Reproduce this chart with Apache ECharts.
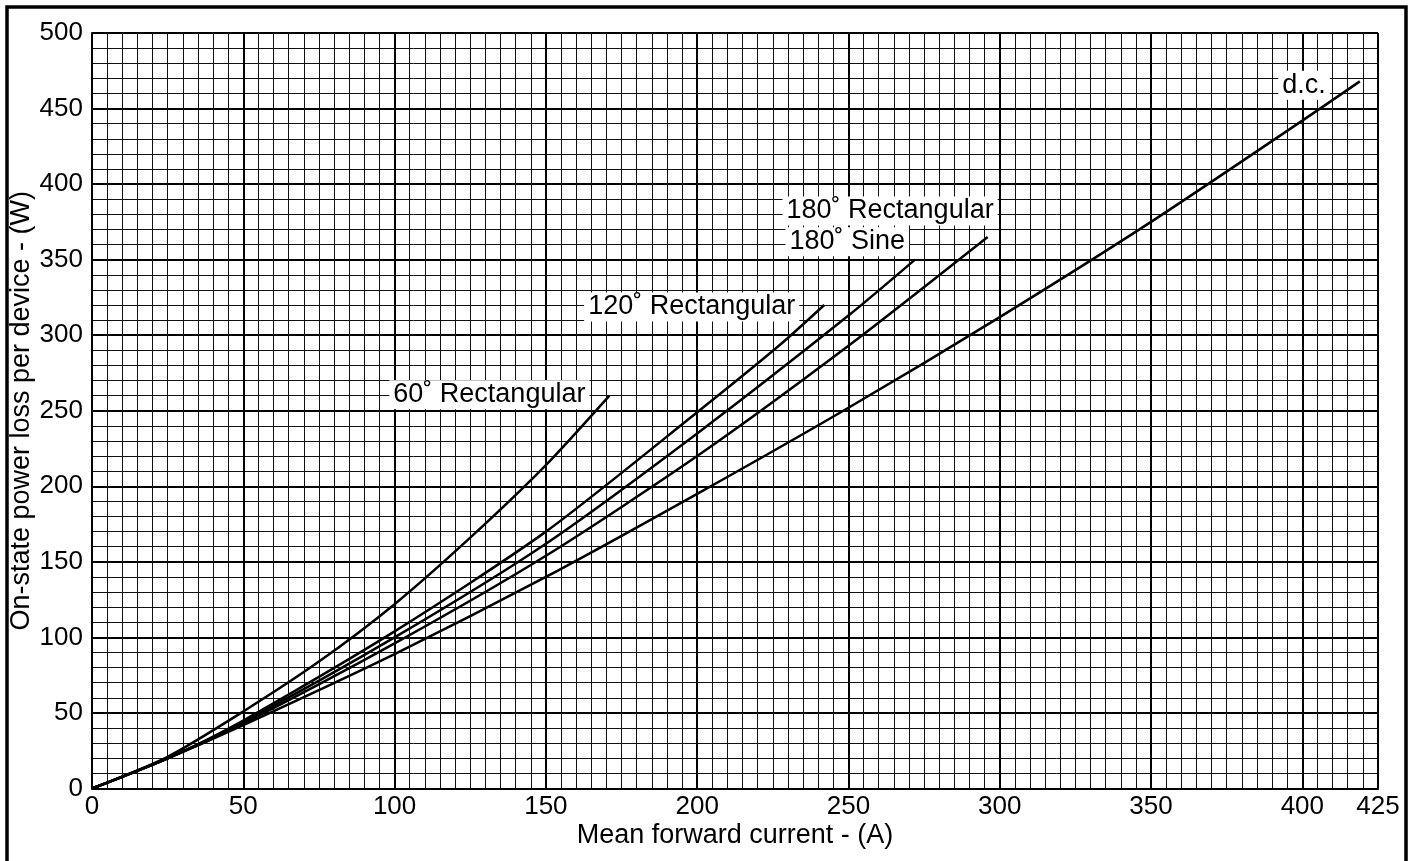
<!DOCTYPE html>
<html>
<head>
<meta charset="utf-8">
<script src="https://cdn.jsdelivr.net/npm/echarts@6/dist/echarts.min.js"></script>
<style>
html,body{margin:0;padding:0;background:#fff;}
#main{width:1419px;height:861px;}
</style>
</head>
<body>
<div id="main"></div>
<script>
// ---- data ----
const xTickLabels = [0, 50, 100, 150, 200, 250, 300, 350, 400, 425];
const yTickLabels = [0, 50, 100, 150, 200, 250, 300, 350, 400, 450, 500];
const seriesNames = ['60˚ Rectangular', '120˚ Rectangular', '180˚ Sine', '180˚ Rectangular', 'd.c.'];
const rect60  = [[0,0],[25,21],[50,51],[75,84],[100,122],[125,166],[150,214],[171,260]];
const rect120 = [[0,0],[25,20],[50,45],[100,104],[150,170],[200,249],[227,293],[242,320]];
const sine180 = [[0,0],[25,20],[50,44],[100,100],[150,162],[200,235],[250,313],[272,350]];
const rect180 = [[0,0],[25,20],[50,43],[100,96],[150,154],[200,220],[250,293],[296,365]];
const dcLoss  = [[0,0],[25,20],[50,42],[100,89],[150,140],[200,195],[250,252],[300,312],[350,375],[400,442],[419,468]];
const seriesData = [rect60, rect120, sine180, rect180, dcLoss];

// label placement relative to curve end (pixel offsets, style only)
const labelOffsets = [[-20, -1], [-25, 2], [-6, -18], [10, -26], [-30, 4]];

const FONT = 'Liberation Sans, Arial, Helvetica, sans-serif';
const chart = echarts.init(document.getElementById('main'), null, {renderer: 'canvas'});

const minorLine = {show: true, lineStyle: {color: '#111', width: 1}};
const majorLine = {show: true, lineStyle: {color: '#000', width: 2}};

chart.setOption({
  animation: false,
  backgroundColor: '#fff',
  grid: {left: 92, top: 33, right: 41, bottom: 72.5, containLabel: false, outerBoundsMode: 'none'},
  xAxis: [
    {type: 'value', min: 0, max: 425, interval: 5, position: 'top',
     axisLine: {show: false}, axisTick: {show: false}, axisLabel: {show: false},
     splitLine: minorLine},
    {type: 'value', min: 0, max: 425, interval: 50, position: 'bottom',
     name: 'Mean forward current - (A)', nameLocation: 'middle', nameGap: 34,
     nameMoveOverlap: false,
     nameTextStyle: {fontSize: 27, color: '#000', fontFamily: FONT},
     axisLine: {show: true, lineStyle: {color: '#000', width: 2}},
     axisTick: {show: false},
     axisLabel: {show: true, margin: 5, fontSize: 26, color: '#000', fontFamily: FONT,
                 showMaxLabel: true, showMinLabel: true,
                 customValues: xTickLabels},
     splitLine: majorLine}
  ],
  yAxis: [
    {type: 'value', min: 0, max: 500, interval: 10, position: 'right',
     axisLine: {show: false}, axisTick: {show: false}, axisLabel: {show: false},
     splitLine: minorLine},
    {type: 'value', min: 0, max: 500, interval: 50, position: 'left',
     name: 'On-state power loss per device - (W)', nameLocation: 'middle', nameGap: 57,
     nameMoveOverlap: false,
     nameTextStyle: {fontSize: 27, color: '#000', fontFamily: FONT},
     axisLine: {show: true, lineStyle: {color: '#000', width: 2}},
     axisTick: {show: false},
     axisLabel: {show: true, margin: 9, fontSize: 26, color: '#000', fontFamily: FONT,
                 customValues: yTickLabels},
     splitLine: majorLine}
  ],
  series: seriesData.map((d, i) => ({
    name: seriesNames[i],
    type: 'line',
    xAxisIndex: 1,
    yAxisIndex: 1,
    data: d,
    smooth: 0.25,
    symbol: 'none',
    lineStyle: {color: '#000', width: 2.5},
    z: 5
  }))
});

const graphics = [{
  type: 'rect',
  shape: {x: 7, y: 7, width: 1399, height: 900},
  style: {fill: null, stroke: '#000', lineWidth: 3.5},
  z: 100
}];
seriesData.forEach((d, i) => {
  const end = d[d.length - 1];
  const p = chart.convertToPixel({xAxisIndex: 1, yAxisIndex: 1}, end);
  graphics.push({
    type: 'text',
    x: p[0] + labelOffsets[i][0],
    y: p[1] + labelOffsets[i][1],
    z: 50,
    style: {
      text: seriesNames[i],
      font: '27px ' + FONT,
      fill: '#000',
      align: 'right',
      verticalAlign: 'middle',
      backgroundColor: '#fff',
      padding: [1, 4, 1, 4]
    }
  });
});
chart.setOption({graphic: graphics});
</script>
</body>
</html>
